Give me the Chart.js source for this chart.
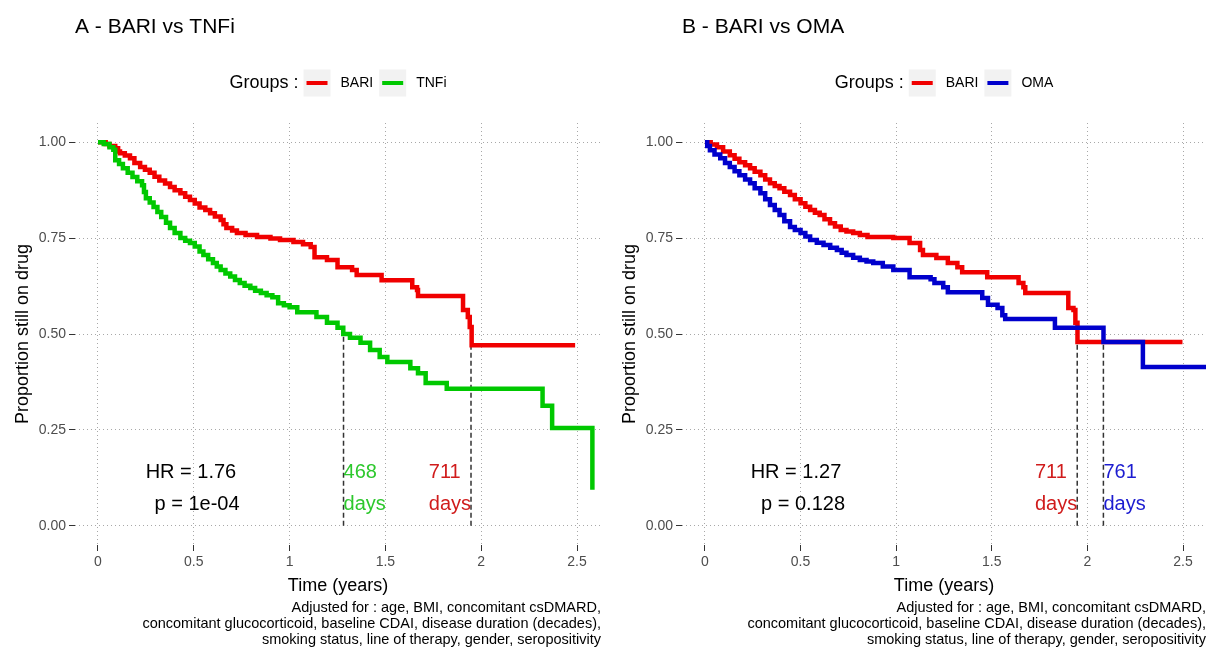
<!DOCTYPE html>
<html>
<head>
<meta charset="utf-8">
<title>Drug retention - BARI vs TNFi / OMA</title>
<script src="https://cdn.jsdelivr.net/npm/chart.js@4.4.1/dist/chart.umd.min.js"></script>
<style>
  html, body { margin: 0; padding: 0; background: #fff; }
  #wrap { position: relative; width: 1206px; height: 649px; overflow: hidden; }
  canvas { position: absolute; top: 0; }
  #panelA { left: 0; }
  #panelB { left: 603px; }
</style>
</head>
<body>
<div id="wrap">
  <canvas id="panelA" width="603" height="649"></canvas>
  <canvas id="panelB" width="603" height="649"></canvas>
</div>
<script>
const FONT = '"Liberation Sans", Arial, Helvetica, sans-serif';
const RED = '#F00000';
const GREEN = '#00C800';
const BLUE = '#0000CC';
const RED_TXT = '#D01C1C';
const GREEN_TXT = '#2DC82D';
const BLUE_TXT = '#1C1CD0';

// Axis ticks
const xTicks = [0, 0.5, 1, 1.5, 2, 2.5];
const xTickLabels = ['0', '0.5', '1', '1.5', '2', '2.5'];
const yTicks = [0, 0.25, 0.5, 0.75, 1];
const yTickLabels = ['0.00', '0.25', '0.50', '0.75', '1.00'];

// A - BARI vs TNFi (time in years, proportion still on drug)
const aGroups = ['BARI', 'TNFi'];
const aBariTime = [0, 0.04, 0.06, 0.09, 0.105, 0.115, 0.14, 0.167, 0.19, 0.22, 0.245, 0.27, 0.295, 0.32, 0.35, 0.376, 0.40, 0.43, 0.455, 0.48, 0.505, 0.53, 0.56, 0.585, 0.61, 0.64, 0.655, 0.67, 0.70, 0.725, 0.77, 0.83, 0.90, 0.95, 1.02, 1.07, 1.11, 1.13, 1.195, 1.25, 1.326, 1.35, 1.48, 1.64, 1.665, 1.67, 1.905, 1.93, 1.94, 1.95, 2.49];
const aBariSurv = [1.0, 0.995, 0.99, 0.984, 0.976, 0.971, 0.965, 0.958, 0.946, 0.935, 0.928, 0.92, 0.91, 0.90, 0.892, 0.883, 0.875, 0.867, 0.858, 0.849, 0.84, 0.83, 0.823, 0.815, 0.806, 0.797, 0.786, 0.776, 0.77, 0.763, 0.758, 0.753, 0.749, 0.745, 0.74, 0.734, 0.727, 0.70, 0.693, 0.674, 0.667, 0.654, 0.64, 0.622, 0.615, 0.599, 0.5625, 0.544, 0.518, 0.471, 0.471];
const aTnfiTime = [0, 0.03, 0.06, 0.08, 0.09, 0.11, 0.13, 0.155, 0.18, 0.205, 0.23, 0.24, 0.25, 0.27, 0.29, 0.31, 0.33, 0.355, 0.376, 0.40, 0.43, 0.455, 0.48, 0.505, 0.53, 0.55, 0.575, 0.60, 0.62, 0.64, 0.665, 0.69, 0.715, 0.74, 0.765, 0.795, 0.82, 0.85, 0.88, 0.91, 0.94, 0.97, 1.0, 1.04, 1.14, 1.195, 1.25, 1.28, 1.315, 1.37, 1.42, 1.47, 1.51, 1.63, 1.67, 1.71, 1.82, 2.32, 2.37, 2.58];
const aTnfiSurv = [1.0, 0.995, 0.987, 0.98, 0.953, 0.943, 0.932, 0.92, 0.909, 0.898, 0.888, 0.87, 0.854, 0.843, 0.831, 0.818, 0.805, 0.79, 0.776, 0.763, 0.75, 0.743, 0.737, 0.728, 0.715, 0.706, 0.695, 0.685, 0.676, 0.667, 0.658, 0.65, 0.641, 0.633, 0.626, 0.62, 0.613, 0.607, 0.601, 0.596, 0.58, 0.575, 0.57, 0.557, 0.544, 0.529, 0.516, 0.50, 0.49, 0.477, 0.458, 0.44, 0.427, 0.411, 0.398, 0.372, 0.357, 0.313, 0.255, 0.094];
const aMedianDays = [711, 468];
const aHR = '1.76';
const aP = '1e-04';

// B - BARI vs OMA
const bGroups = ['BARI', 'OMA'];
const bBariTime = [0, 0.03, 0.063, 0.095, 0.13, 0.155, 0.18, 0.21, 0.236, 0.26, 0.29, 0.315, 0.34, 0.365, 0.39, 0.415, 0.445, 0.47, 0.50, 0.525, 0.55, 0.575, 0.60, 0.625, 0.654, 0.68, 0.71, 0.74, 0.775, 0.81, 0.85, 0.985, 1.07, 1.125, 1.14, 1.21, 1.27, 1.32, 1.345, 1.476, 1.64, 1.665, 1.675, 1.90, 1.927, 1.937, 1.948, 2.497];
const bBariSurv = [1.0, 0.994, 0.987, 0.976, 0.966, 0.957, 0.948, 0.94, 0.932, 0.923, 0.914, 0.903, 0.893, 0.886, 0.88, 0.871, 0.862, 0.851, 0.841, 0.832, 0.823, 0.816, 0.81, 0.799, 0.789, 0.78, 0.771, 0.767, 0.763, 0.758, 0.753, 0.75, 0.737, 0.719, 0.706, 0.698, 0.685, 0.674, 0.661, 0.648, 0.633, 0.622, 0.607, 0.568, 0.5625, 0.529, 0.479, 0.479];
const bOmaTime = [0, 0.012, 0.026, 0.05, 0.08, 0.105, 0.13, 0.155, 0.18, 0.21, 0.236, 0.26, 0.29, 0.315, 0.34, 0.365, 0.39, 0.415, 0.445, 0.47, 0.50, 0.525, 0.55, 0.585, 0.62, 0.655, 0.69, 0.715, 0.74, 0.775, 0.81, 0.845, 0.88, 0.93, 0.985, 1.07, 1.18, 1.20, 1.246, 1.27, 1.45, 1.48, 1.53, 1.555, 1.57, 1.83, 2.084, 2.29, 2.63];
const bOmaSurv = [1.0, 0.99, 0.979, 0.968, 0.958, 0.946, 0.935, 0.924, 0.914, 0.903, 0.893, 0.88, 0.867, 0.851, 0.836, 0.823, 0.81, 0.794, 0.779, 0.771, 0.763, 0.754, 0.745, 0.738, 0.732, 0.725, 0.719, 0.712, 0.706, 0.699, 0.693, 0.689, 0.685, 0.676, 0.667, 0.648, 0.643, 0.633, 0.622, 0.609, 0.594, 0.576, 0.568, 0.549, 0.539, 0.516, 0.479, 0.414, 0.414];
const bMedianDays = [711, 761];
const bHR = '1.27';
const bP = '0.128';

const captionLines = [
  'Adjusted for : age, BMI, concomitant csDMARD,',
  'concomitant glucocorticoid, baseline CDAI, disease duration (decades),',
  'smoking status, line of therapy, gender, seropositivity'
];

// Panel title + "Groups :" legend above the plot area
const headerPlugin = {
  id: 'panelHeader',
  afterDraw(chart, args, o) {
    const { ctx, chartArea } = chart;
    ctx.save();
    ctx.fillStyle = '#000';
    ctx.textBaseline = 'middle';
    ctx.textAlign = 'left';
    ctx.font = `21px ${FONT}`;
    ctx.fillText(o.title, chartArea.left, 27);

    const items = chart.data.datasets.filter(d => d.group);
    const lead = 'Groups :';
    ctx.font = `18px ${FONT}`;
    const leadW = ctx.measureText(lead).width;
    ctx.font = `14px ${FONT}`;
    const widths = items.map(d => ctx.measureText(d.label).width);
    const key = 27;
    let total = leadW;
    items.forEach((d, i) => { total += (i === 0 ? 5 : 6) + key + 10 + widths[i]; });

    let cx = (chartArea.left + chartArea.right) / 2 - total / 2;
    const cy = 83;
    ctx.font = `18px ${FONT}`;
    ctx.fillText(lead, cx, cy);
    cx += leadW;
    items.forEach((d, i) => {
      cx += i === 0 ? 5 : 6;
      ctx.fillStyle = '#F2F2F2';
      ctx.fillRect(cx, cy - key / 2, key, key);
      ctx.strokeStyle = d.borderColor;
      ctx.lineWidth = 4;
      ctx.beginPath();
      ctx.moveTo(cx + 3, cy);
      ctx.lineTo(cx + key - 3, cy);
      ctx.stroke();
      cx += key + 10;
      ctx.fillStyle = '#000';
      ctx.font = `14px ${FONT}`;
      ctx.fillText(d.label, cx, cy);
      cx += widths[i];
    });
    ctx.restore();
  }
};

// HR / p-value text and median survival labels, placed in data units
const annotationPlugin = {
  id: 'kmAnnotations',
  afterDatasetsDraw(chart, args, o) {
    const { ctx, scales: { x, y } } = chart;
    const y1 = y.getPixelForValue(0.138);
    const y2 = y.getPixelForValue(0.055);
    ctx.save();
    ctx.font = `20px ${FONT}`;
    ctx.textBaseline = 'middle';
    ctx.textAlign = 'center';
    ctx.fillStyle = '#000';
    ctx.fillText(`HR = ${o.hr}`, x.getPixelForValue(o.hrX), y1);
    ctx.fillText(`p = ${o.p}`, x.getPixelForValue(o.pX), y2);

    ctx.textAlign = 'left';
    o.medians.forEach(m => {
      const px = x.getPixelForValue(m.days / 365.25);
      const lines = [String(m.days), 'days'];
      const w = Math.max(...lines.map(t => ctx.measureText(t).width));
      const left = m.side === 'left' ? px - w : px;
      ctx.fillStyle = m.color;
      ctx.fillText(lines[0], left, y1);
      ctx.fillText(lines[1], left, y2);
    });
    ctx.restore();
  }
};

function curve(label, times, survs, color, order) {
  return {
    label,
    group: true,
    data: times.map((t, i) => ({ x: t, y: survs[i] })),
    borderColor: color,
    backgroundColor: color,
    borderWidth: 4.5,
    pointRadius: 0,
    stepped: true,
    fill: false,
    order
  };
}

function medianLine(days) {
  const t = days / 365.25;
  return {
    label: 'median ' + days,
    data: [{ x: t, y: 0 }, { x: t, y: 0.5 }],
    borderColor: '#333333',
    borderWidth: 1.5,
    borderDash: [5, 3],
    pointRadius: 0,
    order: 5
  };
}

function buildPanel(p) {
  const datasets = [
    curve(p.groups[0], p.times[0], p.survs[0], p.colors[0], 2),
    curve(p.groups[1], p.times[1], p.survs[1], p.colors[1], 1),
    medianLine(p.medianDays[0]),
    medianLine(p.medianDays[1])
  ];

  return new Chart(document.getElementById(p.canvas), {
    type: 'line',
    data: { datasets },
    options: {
      responsive: false,
      animation: false,
      devicePixelRatio: 1,
      layout: { padding: { top: 123, right: p.padRight, bottom: 0, left: 0 } },
      plugins: {
        legend: { display: false },
        tooltip: { enabled: false },
        title: {
          display: true,
          position: 'bottom',
          align: 'end',
          text: captionLines,
          color: '#000',
          font: { family: FONT, size: 14.5, weight: 'normal', lineHeight: '16px' },
          padding: { top: 1, bottom: 1 }
        },
        panelHeader: { title: p.title },
        kmAnnotations: {
          hr: p.hr, p: p.p, hrX: p.hrX, pX: p.pX,
          medians: p.medianDays.map((d, i) => ({ days: d, color: p.textColors[i], side: p.labelSide[i] }))
        }
      },
      scales: {
        x: {
          type: 'linear',
          min: p.xMin,
          max: p.xMax,
          afterBuildTicks: s => { s.ticks = xTicks.map(v => ({ value: v })); },
          afterFit: s => { s.height = 54; },
          ticks: {
            callback: (v, i) => xTickLabels[i],
            color: '#4D4D4D',
            font: { family: FONT, size: 14 },
            padding: 3,
            maxRotation: 0,
            autoSkip: false
          },
          grid: { color: '#A8A8A8', lineWidth: 1, tickColor: '#333333', tickLength: 6, tickWidth: 1 },
          border: { display: false, dash: [1, 3] },
          title: {
            display: true,
            text: 'Time (years)',
            color: '#000',
            font: { family: FONT, size: 18 },
            padding: { top: 0, bottom: 2 }
          }
        },
        y: {
          type: 'linear',
          min: -0.05,
          max: 1.05,
          afterBuildTicks: s => { s.ticks = yTicks.map(v => ({ value: v })); },
          afterFit: s => { s.width = p.yAxisWidth; },
          ticks: {
            callback: (v, i) => yTickLabels[i],
            color: '#4D4D4D',
            font: { family: FONT, size: 14 },
            padding: 3,
            autoSkip: false
          },
          grid: { color: '#A8A8A8', lineWidth: 1, tickColor: '#333333', tickLength: 6, tickWidth: 1 },
          border: { display: false, dash: [1, 3] },
          title: {
            display: true,
            text: 'Proportion still on drug',
            color: '#000',
            font: { family: FONT, size: 18 },
            padding: { top: p.yTitlePad, bottom: 0 }
          }
        }
      }
    },
    plugins: [headerPlugin, annotationPlugin]
  });
}

buildPanel({
  canvas: 'panelA',
  title: 'A - BARI vs TNFi',
  groups: aGroups,
  times: [aBariTime, aTnfiTime],
  survs: [aBariSurv, aTnfiSurv],
  colors: [RED, GREEN],
  textColors: [RED_TXT, GREEN_TXT],
  labelSide: ['left', 'right'],
  medianDays: aMedianDays,
  hr: aHR, p: aP, hrX: 0.485, pX: 0.517,
  xMin: -0.12, xMax: 2.625,
  yAxisWidth: 75, yTitlePad: 12, padRight: 2
});

buildPanel({
  canvas: 'panelB',
  title: 'B - BARI vs OMA',
  groups: bGroups,
  times: [bBariTime, bOmaTime],
  survs: [bBariSurv, bOmaSurv],
  colors: [RED, BLUE],
  textColors: [RED_TXT, BLUE_TXT],
  labelSide: ['left', 'right'],
  medianDays: bMedianDays,
  hr: bHR, p: bP, hrX: 0.476, pX: 0.513,
  xMin: -0.12, xMax: 2.62,
  yAxisWidth: 79, yTitlePad: 16, padRight: 0
});
</script>
</body>
</html>
